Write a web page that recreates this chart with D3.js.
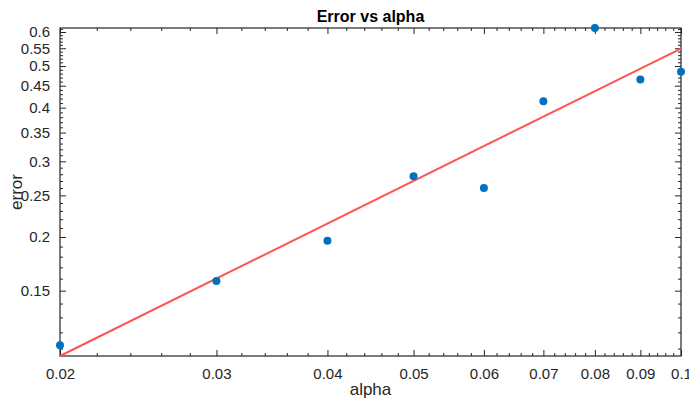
<!DOCTYPE html>
<html>
<head>
<meta charset="utf-8">
<script src="https://cdn.jsdelivr.net/npm/d3@7"></script>
<style>
  body { margin: 0; background: #fff; }
  text { font-family: "Liberation Sans", Arial, sans-serif; fill: #262626; }
</style>
</head>
<body>
<div id="chart"></div>
<script>
// data
var alpha = [0.02, 0.03, 0.04, 0.05, 0.06, 0.07, 0.08, 0.09, 0.1];
var error = [0.112, 0.158, 0.196, 0.277, 0.26, 0.414, 0.613, 0.465, 0.485];

// fitted power-law line endpoints
var fitAlpha = [0.02, 0.1];
var fitError = [0.1057, 0.549];

var xTicks = [0.02, 0.03, 0.04, 0.05, 0.06, 0.07, 0.08, 0.09, 0.1];
var xTickLabels = ["0.02", "0.03", "0.04", "0.05", "0.06", "0.07", "0.08", "0.09", "0.1"];
var yTicks = [0.15, 0.2, 0.25, 0.3, 0.35, 0.4, 0.45, 0.5, 0.55, 0.6];
var yTickLabels = ["0.15", "0.2", "0.25", "0.3", "0.35", "0.4", "0.45", "0.5", "0.55", "0.6"];

var xDomain = [0.02, 0.1];
var yDomain = [0.1057, 0.613];

// svg setup
var svgWidth = 689, svgHeight = 400;
var margin = { top: 28, right: 8, bottom: 44, left: 60 };
var width = svgWidth - margin.left - margin.right;
var height = svgHeight - margin.top - margin.bottom;

var svg = d3.select("#chart")
  .append("svg")
  .attr("width", svgWidth)
  .attr("height", svgHeight);

var chartGroup = svg.append("g")
  .attr("transform", `translate(${margin.left}, ${margin.top})`);

var x = d3.scaleLog().domain(xDomain).range([0, width]);
var y = d3.scaleLog().domain(yDomain).range([height, 0]);

// minor ticks (step 0.002 on x, 0.01 on y)
var xMinor = d3.range(20, 101, 2).map(d => d / 1000).filter(d => xTicks.indexOf(d) < 0);
var yMinor = d3.range(11, 62, 1).map(d => d / 100).filter(d => d >= yDomain[0] && d <= yDomain[1])
  .filter(d => !yTicks.some(t => Math.abs(t - d) < 1e-9));

var axisColor = "#262626";

// axes with inward ticks
var bottomAxis = d3.axisBottom(x).tickValues(xTicks).tickSize(-6).tickPadding(12)
  .tickFormat((d, i) => xTickLabels[i]);
var topAxis = d3.axisTop(x).tickValues(xTicks).tickSize(-6).tickFormat("");
var leftAxis = d3.axisLeft(y).tickValues(yTicks).tickSize(-6).tickPadding(10)
  .tickFormat((d, i) => yTickLabels[i]);
var rightAxis = d3.axisRight(y).tickValues(yTicks).tickSize(-6).tickFormat("");

function styleAxis(g) {
  g.select(".domain").remove();
  g.selectAll("line").attr("stroke", axisColor);
  g.selectAll("text").style("font-size", "15px").attr("fill", axisColor);
}

chartGroup.append("g").attr("transform", `translate(0, ${height})`).call(bottomAxis).call(styleAxis);
chartGroup.append("g").call(topAxis).call(styleAxis);
chartGroup.append("g").call(leftAxis).call(styleAxis);
chartGroup.append("g").attr("transform", `translate(${width}, 0)`).call(rightAxis).call(styleAxis);

chartGroup.append("g").attr("transform", `translate(0, ${height})`)
  .call(d3.axisBottom(x).tickValues(xMinor).tickSize(-3).tickFormat("")).call(styleAxis);
chartGroup.append("g")
  .call(d3.axisTop(x).tickValues(xMinor).tickSize(-3).tickFormat("")).call(styleAxis);
chartGroup.append("g")
  .call(d3.axisLeft(y).tickValues(yMinor).tickSize(-3).tickFormat("")).call(styleAxis);
chartGroup.append("g").attr("transform", `translate(${width}, 0)`)
  .call(d3.axisRight(y).tickValues(yMinor).tickSize(-3).tickFormat("")).call(styleAxis);

// box
chartGroup.append("rect")
  .attr("x", 0).attr("y", 0)
  .attr("width", width).attr("height", height)
  .attr("fill", "none")
  .attr("stroke", axisColor)
  .attr("stroke-width", 1.2);

// fit line
var fitData = fitAlpha.map((a, i) => ({ a: a, e: fitError[i] }));
chartGroup.append("path")
  .datum(fitData)
  .attr("d", d3.line().x(d => x(d.a)).y(d => y(d.e)))
  .attr("fill", "none")
  .attr("stroke", "#ff5454")
  .attr("stroke-width", 2);

// points
chartGroup.selectAll("circle")
  .data(alpha)
  .enter()
  .append("circle")
  .attr("cx", d => x(d))
  .attr("cy", (d, i) => y(error[i]))
  .attr("r", 4)
  .attr("fill", "#0072bd");

// title and labels
svg.append("text")
  .attr("x", margin.left + width / 2)
  .attr("y", 22)
  .attr("text-anchor", "middle")
  .style("font-size", "16px")
  .style("font-weight", "bold")
  .style("fill", "#000")
  .text("Error vs alpha");

svg.append("text")
  .attr("x", margin.left + width / 2)
  .attr("y", 395)
  .attr("text-anchor", "middle")
  .style("font-size", "17px")
  .text("alpha");

svg.append("text")
  .attr("transform", `translate(22, ${margin.top + height / 2}) rotate(-90)`)
  .attr("text-anchor", "middle")
  .style("font-size", "17px")
  .text("error");
</script>
</body>
</html>
